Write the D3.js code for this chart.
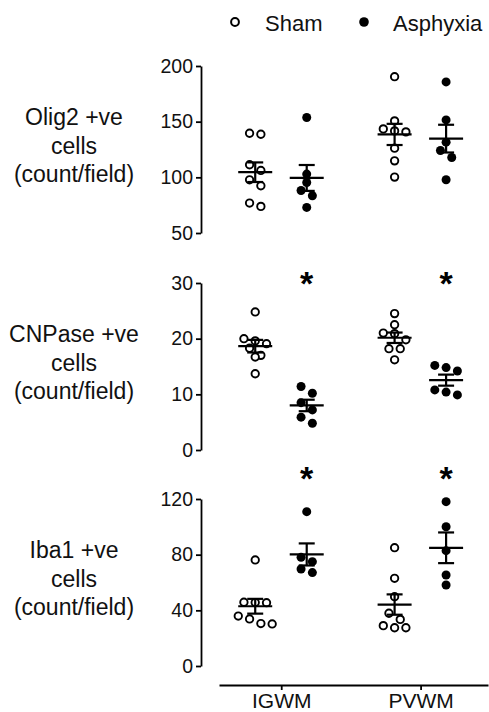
<!DOCTYPE html>
<html>
<head>
<meta charset="utf-8">
<script src="https://cdn.jsdelivr.net/npm/d3@7/dist/d3.min.js"></script>
<style>
	body { margin: 0; background: #fff; }
	svg { display: block; font-family: "Liberation Sans", Arial, Helvetica, sans-serif; }
</style>
</head>
<body>
<svg id="main-svg" width="489" height="712"></svg>
<script>

	var regions = [ 'IGWM', 'PVWM' ],
		groups = [ 'Sham', 'Asphyxia' ];

	// Olig2 +ve cells (count/field)
	var olig2Label = [ 'Olig2 +ve', 'cells', '(count/field)' ],
		olig2Ticks = [ 50, 100, 150, 200 ],
		olig2IgwmSham = [ 139.6, 138.7, 111.3, 106.2, 97.8, 92.4, 76.9, 73.9 ],
		olig2IgwmAsph = [ 153.7, 102.9, 95.4, 88.2, 83.5, 73.0 ],
		olig2PvwmSham = [ 190.4, 150.7, 143.5, 141.7, 140.8, 126.2, 114.8, 100.2 ],
		olig2PvwmAsph = [ 185.7, 151.6, 131.6, 124.1, 117.8, 97.8 ],
		olig2Stars = [];

	// CNPase +ve cells (count/field)
	var cnpaseLabel = [ 'CNPase +ve', 'cells', '(count/field)' ],
		cnpaseTicks = [ 0, 10, 20, 30 ],
		cnpaseIgwmSham = [ 24.8, 20.0, 19.6, 19.1, 18.3, 17.0, 16.7, 13.7 ],
		cnpaseIgwmAsph = [ 11.4, 10.2, 8.5, 7.2, 5.9, 4.8 ],
		cnpasePvwmSham = [ 24.5, 22.5, 21.0, 20.9, 19.8, 18.2, 18.2, 16.2 ],
		cnpasePvwmAsph = [ 15.2, 14.8, 14.2, 10.8, 10.4, 9.9 ],
		cnpaseStars = [ 'IGWM', 'PVWM' ];

	// Iba1 +ve cells (count/field)
	var iba1Label = [ 'Iba1 +ve', 'cells', '(count/field)' ],
		iba1Ticks = [ 0, 40, 80, 120 ],
		iba1IgwmSham = [ 76.2, 45.8, 45.6, 45.5, 35.9, 33.8, 30.5, 30.2 ],
		iba1IgwmAsph = [ 110.9, 78.1, 75.0, 69.7, 67.1 ],
		iba1PvwmSham = [ 85.0, 63.0, 49.8, 37.9, 33.5, 29.0, 27.5, 27.5 ],
		iba1PvwmAsph = [ 118.1, 100.1, 82.9, 65.4, 58.2 ],
		iba1Stars = [ 'IGWM', 'PVWM' ];


	var panels = [
		{ label: olig2Label, ticks: olig2Ticks, domain: [ 50, 200 ], top: 66, bottom: 233, starAt: null, stars: olig2Stars,
			data: { IGWM: { Sham: olig2IgwmSham, Asphyxia: olig2IgwmAsph }, PVWM: { Sham: olig2PvwmSham, Asphyxia: olig2PvwmAsph } } },
		{ label: cnpaseLabel, ticks: cnpaseTicks, domain: [ 0, 30 ], top: 283, bottom: 450, starAt: 31.4, stars: cnpaseStars,
			data: { IGWM: { Sham: cnpaseIgwmSham, Asphyxia: cnpaseIgwmAsph }, PVWM: { Sham: cnpasePvwmSham, Asphyxia: cnpasePvwmAsph } } },
		{ label: iba1Label, ticks: iba1Ticks, domain: [ 0, 120 ], top: 499, bottom: 666, starAt: 141, stars: iba1Stars,
			data: { IGWM: { Sham: iba1IgwmSham, Asphyxia: iba1IgwmAsph }, PVWM: { Sham: iba1PvwmSham, Asphyxia: iba1PvwmAsph } } }
	];


	var svg = d3.select( '#main-svg' ),
		axisX = 201,
		x = d3.scalePoint().domain( regions ).range( [ 219, 488 ] ).padding( 0.465 ).align( 0.48 ),
		xg = d3.scalePoint().domain( groups ).range( [ -26, 25.5 ] );


	/**
	 * GraphPad-like scatter: points that sit close in y share a row and are spread sideways.
	 */
	function swarm( values, y, cx ) {
		var sorted = values.slice().sort( d3.descending ),
			rows = [],
			row = null,
			pts = [];

		sorted.forEach( function( v ) {
			if ( !row || y( v ) - y( row[ 0 ] ) > 8 ) {
				row = [];
				rows.push( row );
			}
			row.push( v );
		} );

		rows.forEach( function( r ) {
			r.forEach( function( v, i ) {
				pts.push( { v: v, x: cx + ( i - ( r.length - 1 ) / 2 ) * 11.3, y: y( v ) } );
			} );
		} );

		return pts;
	}


	panels.forEach( function( p ) {

		var y = d3.scaleLinear().domain( p.domain ).range( [ p.bottom, p.top ] ),
			mid = ( p.top + p.bottom ) / 2;

		var ax = svg.append( 'g' )
			.attr( 'transform', 'translate(' + axisX + ',0)' )
			.call( d3.axisLeft( y ).tickValues( p.ticks ).tickSize( 5 ).tickSizeOuter( 0 ).tickPadding( 3 ) );

		ax.select( '.domain' ).attr( 'stroke-width', 1.8 );
		ax.selectAll( '.tick line' ).attr( 'stroke-width', 1.8 );
		ax.selectAll( '.tick text' )
			.attr( 'font-size', 19.5 )
			.attr( 'font-family', null )
			.attr( 'fill', '#111' );

		// y title, three centred lines
		svg.append( 'text' )
			.attr( 'text-anchor', 'middle' )
			.attr( 'font-size', 23 )
			.attr( 'fill', '#111' )
			.selectAll( 'tspan' )
			.data( p.label )
			.join( 'tspan' )
			.attr( 'x', 74 )
			.attr( 'y', function( d, i ) { return mid + 4 + ( i - 1 ) * 28.5; } )
			.text( function( d ) { return d; } );

		regions.forEach( function( region ) {
			groups.forEach( function( g ) {

				var vals = p.data[ region ][ g ],
					cx = x( region ) + xg( g ),
					mean = d3.mean( vals ),
					sem = d3.deviation( vals ) / Math.sqrt( vals.length ),
					open = g === 'Sham';

				svg.append( 'g' )
					.selectAll( 'circle' )
					.data( swarm( vals, y, cx ) )
					.join( 'circle' )
					.attr( 'cx', function( d ) { return d.x; } )
					.attr( 'cy', function( d ) { return d.y; } )
					.attr( 'r', open ? 3.7 : 4.5 )
					.attr( 'fill', open ? '#fff' : '#000' )
					.attr( 'stroke', open ? '#000' : 'none' )
					.attr( 'stroke-width', 1.9 );

				var bars = svg.append( 'g' ).attr( 'stroke', '#000' ).attr( 'stroke-width', 2.2 );

				bars.append( 'line' )
					.attr( 'x1', cx - 17 ).attr( 'x2', cx + 17 )
					.attr( 'y1', y( mean ) ).attr( 'y2', y( mean ) );
				bars.append( 'line' )
					.attr( 'x1', cx ).attr( 'x2', cx )
					.attr( 'y1', y( mean - sem ) ).attr( 'y2', y( mean + sem ) );
				bars.append( 'line' )
					.attr( 'x1', cx - 8 ).attr( 'x2', cx + 8 )
					.attr( 'y1', y( mean + sem ) ).attr( 'y2', y( mean + sem ) );
				bars.append( 'line' )
					.attr( 'x1', cx - 8 ).attr( 'x2', cx + 8 )
					.attr( 'y1', y( mean - sem ) ).attr( 'y2', y( mean - sem ) );
			} );
		} );

		// significance stars over the asphyxia column
		svg.selectAll( null )
			.data( p.stars )
			.join( 'text' )
			.attr( 'x', function( d ) { return x( d ) + xg( 'Asphyxia' ); } )
			.attr( 'y', y( p.starAt ) + 20 )
			.attr( 'text-anchor', 'middle' )
			.attr( 'font-size', 34 )
			.attr( 'font-weight', 'bold' )
			.text( '*' );

		if ( p === panels[ panels.length - 1 ] ) {
			var bx = svg.append( 'g' )
				.attr( 'transform', 'translate(0,' + ( p.bottom + 19 ) + ')' )
				.call( d3.axisBottom( x ).tickSize( 5 ).tickSizeOuter( 0 ).tickPadding( 3 ) );

			bx.select( '.domain' ).attr( 'stroke-width', 1.8 );
			bx.selectAll( '.tick line' ).attr( 'stroke-width', 1.8 );
			bx.selectAll( '.tick text' )
				.attr( 'font-size', 21 )
				.attr( 'font-family', null )
				.attr( 'fill', '#111' );
		}
	} );


	// legend
	var legend = svg.append( 'g' );

	legend.append( 'circle' ).attr( 'cx', 235 ).attr( 'cy', 22 ).attr( 'r', 3.9 )
		.attr( 'fill', '#fff' ).attr( 'stroke', '#000' ).attr( 'stroke-width', 2 );
	legend.append( 'text' ).attr( 'x', 265 ).attr( 'y', 30.5 ).attr( 'font-size', 22 ).attr( 'fill', '#111' )
		.text( groups[ 0 ] );
	legend.append( 'circle' ).attr( 'cx', 364 ).attr( 'cy', 22 ).attr( 'r', 4.8 )
		.attr( 'fill', '#000' );
	legend.append( 'text' ).attr( 'x', 393 ).attr( 'y', 30.5 ).attr( 'font-size', 22 ).attr( 'fill', '#111' )
		.text( groups[ 1 ] );

</script>
</body>
</html>
